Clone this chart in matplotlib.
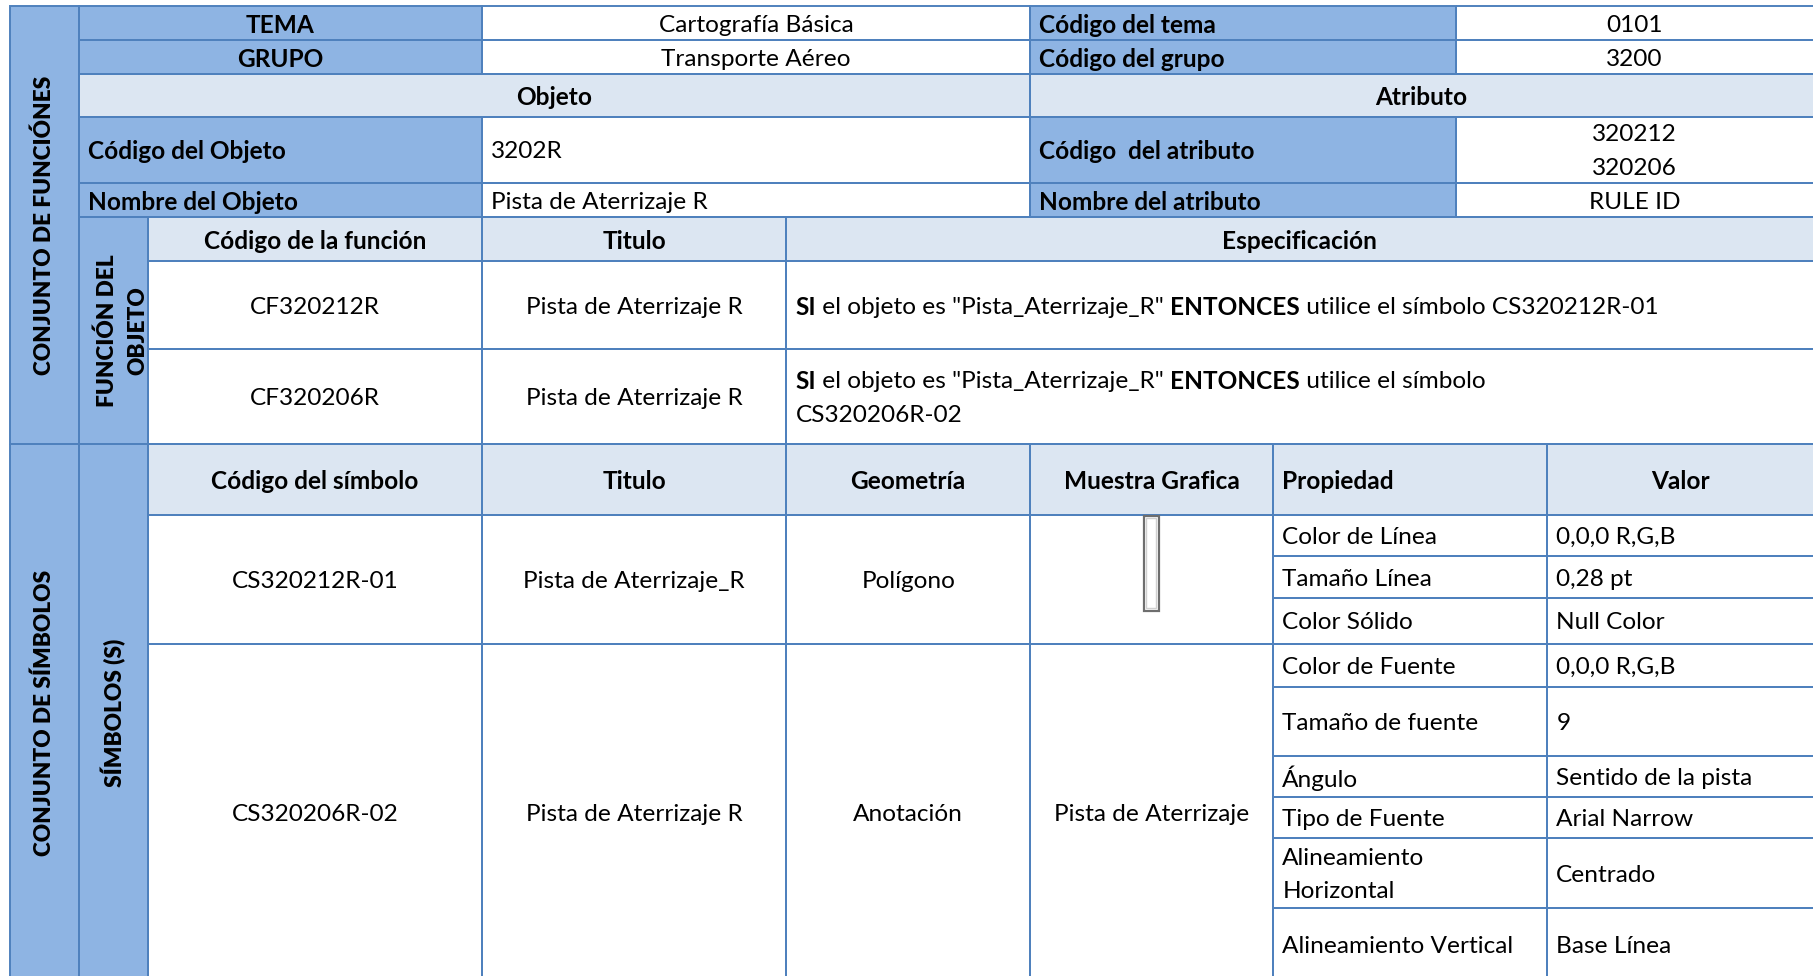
import matplotlib
matplotlib.use("Agg")
import matplotlib.pyplot as plt
from matplotlib.patches import Rectangle

# ---------------- data (texts of the table) ----------------
tema_row = ["TEMA", "Cartografía Básica", "Código del tema", "0101"]
grupo_row = ["GRUPO", "Transporte Aéreo", "Código del grupo", "3200"]
section_headers = ["Objeto", "Atributo"]
codigo_row = ["Código del Objeto", "3202R", "Código  del atributo", "320212\n320206"]
nombre_row = ["Nombre del Objeto", "Pista de Aterrizaje R", "Nombre del atributo", "RULE ID"]
side_labels = ["CONJUNTO DE FUNCIÓNES", "FUNCIÓN DEL\nOBJETO",
               "CONJUNTO DE SÍMBOLOS", "SÍMBOLOS (S)"]
func_headers = ["Código de la función", "Titulo", "Especificación"]
func_codes = ["CF320212R", "CF320206R"]
func_titles = ["Pista de Aterrizaje R", "Pista de Aterrizaje R"]
func_specs = [
    [[("SI", True), (" el objeto es \"Pista_Aterrizaje_R\" ", False), ("ENTONCES", True),
      (" utilice el símbolo CS320212R-01", False)]],
    [[("SI", True), (" el objeto es \"Pista_Aterrizaje_R\" ", False), ("ENTONCES", True),
      (" utilice el símbolo", False)],
     [("CS320206R-02", False)]],
]
sym_headers = ["Código del símbolo", "Titulo", "Geometría", "Muestra Grafica", "Propiedad", "Valor"]
sym_codes = ["CS320212R-01", "CS320206R-02"]
sym_titles = ["Pista de Aterrizaje_R", "Pista de Aterrizaje R"]
sym_geoms = ["Polígono", "Anotación"]
sym_samples = [None, "Pista de Aterrizaje"]
prop_names = [["Color de Línea", "Tamaño Línea", "Color Sólido"],
              ["Color de Fuente", "Tamaño de fuente", "Ángulo", "Tipo de Fuente",
               "Alineamiento\nHorizontal", "Alineamiento Vertical"]]
prop_values = [["0,0,0 R,G,B", "0,28 pt", "Null Color"],
               ["0,0,0 R,G,B", "9", "Sentido de la pista", "Arial Narrow",
                "Centrado", "Base Línea"]]

# ---------------- layout (reference pixel grid) ----------------
W, H = 1568, 844
RIGHT = 1572          # table continues past the right edge
RC = 1568             # visible right edge used for centring
BOTTOM = 849
X_OUT, X_SIDE, X_SUB = 9, 68, 128
TOP_COLS = [68, 417, 891, 1259, RIGHT]
TOP_ROWS = [5, 35, 64, 101, 158, 188]
MID_COLS = [128, 417, 680, RIGHT]
MID_ROWS = [188, 226, 302, 384]
BOT_COLS = [128, 417, 680, 891, 1101, 1338, RIGHT]
BOT_ROWS = [384, 445, 557, BOTTOM]
PROP_ROWS = [[445, 481, 517, 557], [557, 594, 654, 689, 725, 785, BOTTOM]]
PAD = 8
PITCH = 29

BLUE = "#8EB4E3"
LIGHT = "#DCE6F2"
WHITE = "#FFFFFF"
EDGE = "#4F81BD"
LW = 1.4
FONT = "Lato"
TXT = "#000000"

fig = plt.figure(figsize=(18.13, 9.76), dpi=100)
ax = fig.add_axes([0, 0, 1, 1])
ax.set_xlim(0, W)
ax.set_ylim(H, 0)
ax.axis("off")
renderer = fig.canvas.get_renderer()
PX = fig.get_figwidth() * fig.dpi / W   # display px per grid unit

# fit font size to the reference text width
_t = ax.text(0, 0, "Cartografía Básica", fontsize=10, family=FONT)
FS = 10 * (168 * PX) / _t.get_window_extent(renderer).width
_t.remove()
FS_ROT = FS * 0.93


def cell(x0, x1, y0, y1, fill):
    ax.add_patch(Rectangle((x0, y0), x1 - x0, y1 - y0, facecolor=fill,
                           edgecolor="none", zorder=1))
    ax.add_patch(Rectangle((x0, y0), x1 - x0, y1 - y0, facecolor="none",
                           edgecolor=EDGE, lw=LW, zorder=3))


def put(x0, x1, y0, y1, s, ha="center", bold=False, rot=0):
    lines = s.split("\n")
    n = len(lines)
    yc = (y0 + y1) / 2
    if rot == 0:
        x = (x0 + x1) / 2 if ha == "center" else x0 + PAD
        for i, ln in enumerate(lines):
            ax.text(x, yc + (i - (n - 1) / 2) * PITCH, ln, ha=ha, va="center_baseline",
                    fontsize=FS, family=FONT, fontweight="bold" if bold else "normal",
                    color=TXT, zorder=4)
    else:
        xc = (x0 + x1) / 2
        for i, ln in enumerate(lines):
            ax.text(xc + (i - (n - 1) / 2) * 27, yc, ln, ha="center", va="center",
                    rotation=90, fontsize=FS_ROT, family=FONT,
                    fontweight="heavy" if bold else "normal", color=TXT, zorder=4)


def rich(x0, y0, y1, lines):
    n = len(lines)
    yc = (y0 + y1) / 2
    for i, parts in enumerate(lines):
        x = x0 + PAD
        y = yc + (i - (n - 1) / 2) * PITCH
        for txt, bold in parts:
            t = ax.text(x, y, txt, ha="left", va="center_baseline", fontsize=FS,
                        family=FONT, fontweight="bold" if bold else "normal",
                        color=TXT, zorder=4)
            x += t.get_window_extent(renderer).width / PX


# ---- side columns ----
cell(X_OUT, X_SIDE, TOP_ROWS[0], MID_ROWS[-1], BLUE)
put(X_OUT, X_SIDE, TOP_ROWS[0], MID_ROWS[-1], side_labels[0], bold=True, rot=90)
cell(X_SIDE, X_SUB, MID_ROWS[0], MID_ROWS[-1], BLUE)
put(X_SIDE + 16, X_SUB, MID_ROWS[0], MID_ROWS[-1], side_labels[1], bold=True, rot=90)
cell(X_OUT, X_SIDE, BOT_ROWS[0], BOTTOM, BLUE)
put(X_OUT, X_SIDE, BOT_ROWS[0], BOTTOM, side_labels[2], bold=True, rot=90)
cell(X_SIDE, X_SUB, BOT_ROWS[0], BOTTOM, BLUE)
put(X_SIDE, X_SUB, BOT_ROWS[0], BOTTOM, side_labels[3], bold=True, rot=90)

# ---- top block ----
c = TOP_COLS
r = TOP_ROWS
for k, row in enumerate([tema_row, grupo_row]):
    y0, y1 = r[k], r[k + 1]
    cell(c[0], c[1], y0, y1, BLUE); put(c[0], c[1], y0, y1, row[0], bold=True)
    cell(c[1], c[2], y0, y1, WHITE); put(c[1], c[2], y0, y1, row[1])
    cell(c[2], c[3], y0, y1, BLUE); put(c[2], c[3], y0, y1, row[2], ha="left", bold=True)
    cell(c[3], c[4], y0, y1, WHITE); put(c[3], RC, y0, y1, row[3])

cell(c[0], c[2], r[2], r[3], LIGHT); put(c[0], c[2], r[2], r[3], section_headers[0], bold=True)
cell(c[2], c[4], r[2], r[3], LIGHT); put(c[2], RC, r[2], r[3], section_headers[1], bold=True)

for k, row in enumerate([codigo_row, nombre_row]):
    y0, y1 = r[3 + k], r[4 + k]
    cell(c[0], c[1], y0, y1, BLUE); put(c[0], c[1], y0, y1, row[0], ha="left", bold=True)
    cell(c[1], c[2], y0, y1, WHITE); put(c[1], c[2], y0, y1, row[1], ha="left")
    cell(c[2], c[3], y0, y1, BLUE); put(c[2], c[3], y0, y1, row[2], ha="left", bold=True)
    cell(c[3], c[4], y0, y1, WHITE); put(c[3], RC, y0, y1, row[3])

# ---- functions block ----
c = MID_COLS
r = MID_ROWS
for j, h in enumerate(func_headers):
    cell(c[j], c[j + 1], r[0], r[1], LIGHT)
    put(c[j], min(c[j + 1], RC), r[0], r[1], h, bold=True)
for k in range(len(func_codes)):
    y0, y1 = r[1 + k], r[2 + k]
    cell(c[0], c[1], y0, y1, WHITE); put(c[0], c[1], y0, y1, func_codes[k])
    cell(c[1], c[2], y0, y1, WHITE); put(c[1], c[2], y0, y1, func_titles[k])
    cell(c[2], c[3], y0, y1, WHITE); rich(c[2], y0, y1, func_specs[k])

# ---- symbols block ----
c = BOT_COLS
r = BOT_ROWS
for j, h in enumerate(sym_headers):
    cell(c[j], c[j + 1], r[0], r[1], LIGHT)
    put(c[j], min(c[j + 1], RC), r[0], r[1], h, bold=True, ha="left" if j == 4 else "center")
for k in range(len(sym_codes)):
    y0, y1 = r[1 + k], r[2 + k]
    cell(c[0], c[1], y0, y1, WHITE); put(c[0], c[1], y0, y1, sym_codes[k])
    cell(c[1], c[2], y0, y1, WHITE); put(c[1], c[2], y0, y1, sym_titles[k])
    cell(c[2], c[3], y0, y1, WHITE); put(c[2], c[3], y0, y1, sym_geoms[k])
    cell(c[3], c[4], y0, y1, WHITE)
    if sym_samples[k] is None:
        # polygon sample: thin runway outline
        ax.add_patch(Rectangle((989, y0 + 1), 13, 82, facecolor="#FFFFFF",
                               edgecolor="#6E6E6E", lw=1.6, zorder=5))
        ax.add_patch(Rectangle((990.8, y0 + 3), 9.4, 78, facecolor="none",
                               edgecolor="#D0D0D0", lw=1.0, zorder=5))
    else:
        put(c[3], c[4], y0, y1, sym_samples[k])
    pr = PROP_ROWS[k]
    for m, (nm, vl) in enumerate(zip(prop_names[k], prop_values[k])):
        cell(c[4], c[5], pr[m], pr[m + 1], WHITE); put(c[4], c[5], pr[m], pr[m + 1], nm, ha="left")
        cell(c[5], c[6], pr[m], pr[m + 1], WHITE); put(c[5], c[6], pr[m], pr[m + 1], vl, ha="left")

fig.savefig("out.png", dpi=100, facecolor="white")
